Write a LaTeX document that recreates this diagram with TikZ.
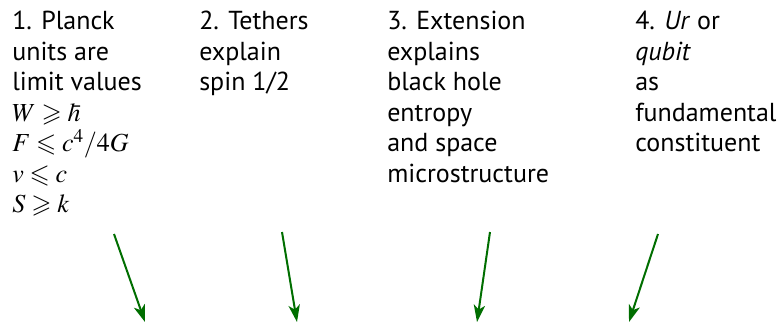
\documentclass[tikz,border=0pt]{standalone}
\usepackage{amssymb}
\usepackage{mathptmx}
\usepackage[no-math]{fontspec}
\setmainfont{PT Sans}
\usepackage{xcolor}
\usetikzlibrary{arrows.meta}
\definecolor{arrowgreen}{RGB}{0,110,0}
\newcommand{\hbarsym}{{\mkern3mu\mathchar'26\mkern-9mu h}}

\begin{document}
\begin{tikzpicture}[x=0.75pt,y=-0.75pt,
    col/.style={anchor=north west,inner sep=0pt,align=left,
                font=\fontsize{19.5}{22.9}\selectfont},
    arr/.style={-{Stealth[length=4.5mm,width=3mm,inset=1.2mm]},arrowgreen,line width=1.5pt}]
  \useasboundingbox (0,0) rectangle (780,325);
  \node[col] (planck) at (12,11)  {1. Planck\\units are\\limit values\\
      $W \geqslant \hbarsym$\\$F \leqslant c^4/4G$\\$v \leqslant c$\\$S \geqslant k$};
  \node[col] (tether) at (199,11) {2. Tethers\\explain\\spin 1/2};
  \node[col] (extend) at (387,11) {3. Extension\\explains\\black hole\\entropy\\and space\\microstructure};
  \node[col] (urqub)  at (635,11) {4. \emph{Ur} or\\\emph{qubit}\\as\\fundamental\\constituent};
  \coordinate (s1) at (114,234); \coordinate (e1) at (145,322);
  \coordinate (s2) at (282,232); \coordinate (e2) at (297,322);
  \coordinate (s3) at (490,232); \coordinate (e3) at (477,322);
  \coordinate (s4) at (658,234); \coordinate (e4) at (629,322);
  \draw[arr] (s1) -- (e1); \draw[arr] (s2) -- (e2);
  \draw[arr] (s3) -- (e3); \draw[arr] (s4) -- (e4);
\end{tikzpicture}
\end{document}
